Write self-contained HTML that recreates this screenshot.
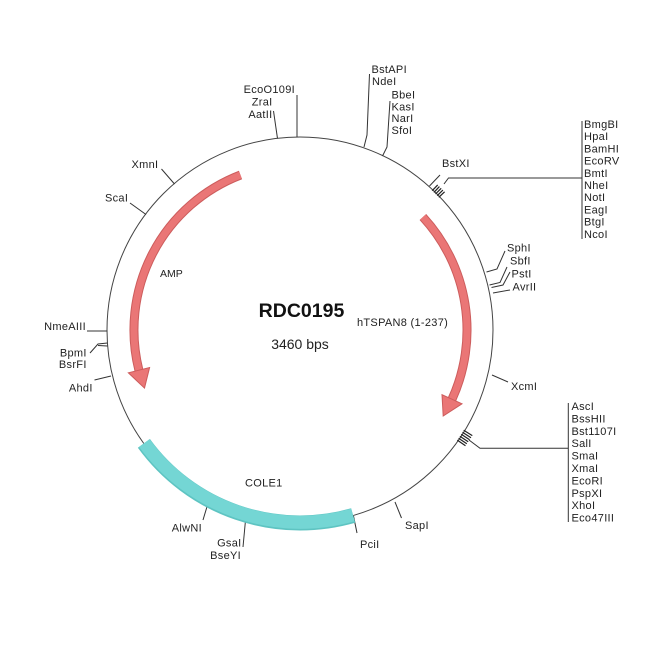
<!DOCTYPE html>
<html>
<head>
<meta charset="utf-8">
<style>
  html, body { margin:0; padding:0; background:#fff; }
  svg { display:block; }
  text { font-family: "Liberation Sans", Arial, sans-serif; fill:#222; }
  .l { font-size:11px; letter-spacing:0.3px; }
</style>
</head>
<body>
<svg width="650" height="650" viewBox="0 0 650 650" xmlns="http://www.w3.org/2000/svg">
  <rect width="650" height="650" fill="#fff"/>

  <!-- backbone -->
  <circle cx="300" cy="330" r="193" fill="none" stroke="#444" stroke-width="1"/>

  <!-- tick lines -->
  <g fill="none" stroke="#333" stroke-width="1">
    <path d="M297,95 L297,137"/>
    <path d="M273.5,111 L277.5,138.5"/>
    <path d="M369.5,74 L367,135 L364,147"/>
    <path d="M390,101 L387,147 L382.5,156"/>
    <path d="M429.5,186 L440,175"/>
    <path d="M444,184 L448.5,178 L582,178"/>
    <path d="M582,121 L582,239"/>
    <path d="M486.5,272 L497,269 L505,251"/>
    <path d="M489.5,285 L500,282.5 L507,267"/>
    <path d="M491.5,287.5 L503,285 L510,272"/>
    <path d="M493,293 L510,290"/>
    <path d="M492,375 L508,382"/>
    <path d="M469,440 L480,448.3 L568.3,448.3"/>
    <path d="M568.3,403 L568.3,522"/>
    <path d="M395,502 L401.5,518"/>
    <path d="M353.5,516 L357,533"/>
    <path d="M246,515 L243,547"/>
    <path d="M209,500 L203,520"/>
    <path d="M161.5,169 L174.5,184"/>
    <path d="M130,203 L146,214.5"/>
    <path d="M87,331 L107.5,331"/>
    <path d="M107.5,343 L98,344 L90,353"/>
    <path d="M107.5,346 L98,345.5"/>
    <path d="M111,376 L94.5,380"/>
  </g>

  <!-- clusters -->
  <g stroke="#222" stroke-width="1.2">
    <line x1="432.2" y1="190.7" x2="437.7" y2="184.9"/>
    <line x1="433.9" y1="192.4" x2="439.4" y2="186.6"/>
    <line x1="435.5" y1="194.0" x2="441.2" y2="188.3"/>
    <line x1="437.2" y1="195.7" x2="442.9" y2="190.1"/>
    <line x1="438.8" y1="197.3" x2="444.6" y2="191.8"/>

    <line x1="463.7" y1="430.3" x2="472.3" y2="435.6"/>
    <line x1="462.5" y1="432.3" x2="471.0" y2="437.7"/>
    <line x1="461.2" y1="434.3" x2="469.6" y2="439.8"/>
    <line x1="459.9" y1="436.3" x2="468.2" y2="441.8"/>
    <line x1="458.6" y1="438.2" x2="466.8" y2="443.8"/>
    <line x1="457.3" y1="440.1" x2="465.5" y2="445.8"/>
  </g>

  <!-- COLE1 band -->
  <path d="M353.2,515.5 A193,193 0 0 1 143.9,443.4" fill="none" stroke="#5ec4c2" stroke-width="15"/>
  <path d="M352.9,515.0 A193,193 0 0 1 144.3,443.0" fill="none" stroke="#74d6d4" stroke-width="13"/>

  <!-- AMP arrow -->
  <path d="M240.5,175 A166,166 0 0 0 138.9,370.2" fill="none" stroke="#cc5c5c" stroke-width="9"/>
  <path d="M240.5,175 A166,166 0 0 0 138.9,370.2" fill="none" stroke="#ea7676" stroke-width="7"/>
  <polygon points="128.3,372.8 149.6,367.5 144.5,388.1" fill="#ea7676" stroke="#cc5c5c" stroke-width="1"/>

  <!-- hTSPAN8 arrow -->
  <path d="M422.9,217 A167,167 0 0 1 452,399.3" fill="none" stroke="#cc5c5c" stroke-width="9"/>
  <path d="M422.9,217 A167,167 0 0 1 452,399.3" fill="none" stroke="#ea7676" stroke-width="7"/>
  <polygon points="462.0,403.8 442.0,394.7 443.2,416.0" fill="#ea7676" stroke="#cc5c5c" stroke-width="1"/>

  <!-- center -->
  <text x="301.5" y="317" text-anchor="middle" font-size="19.5" font-weight="bold" style="fill:#111">RDC0195</text>
  <text x="300" y="349" text-anchor="middle" font-size="14">3460 bps</text>
  <text class="l" x="357" y="326">hTSPAN8 (1-237)</text>
  <text x="160" y="277" font-size="10.5">AMP</text>
  <text class="l" x="245" y="486.5">COLE1</text>

  <!-- top labels -->
  <text class="l" x="295" y="93" text-anchor="end">EcoO109I</text>
  <text class="l" x="272.5" y="105.5" text-anchor="end">ZraI</text>
  <text class="l" x="272.5" y="118" text-anchor="end">AatII</text>
  <text class="l" x="371.5" y="73">BstAPI</text>
  <text class="l" x="372" y="85">NdeI</text>
  <text class="l" x="391.5" y="98.5">BbeI</text>
  <text class="l" x="391.5" y="110.3">KasI</text>
  <text class="l" x="391.5" y="122">NarI</text>
  <text class="l" x="391.5" y="133.8">SfoI</text>
  <text class="l" x="442" y="167">BstXI</text>

  <!-- right list 1 -->
  <text class="l" x="584" y="128">BmgBI</text>
  <text class="l" x="584" y="140.2">HpaI</text>
  <text class="l" x="584" y="152.4">BamHI</text>
  <text class="l" x="584" y="164.6">EcoRV</text>
  <text class="l" x="584" y="176.8">BmtI</text>
  <text class="l" x="584" y="189">NheI</text>
  <text class="l" x="584" y="201.2">NotI</text>
  <text class="l" x="584" y="213.4">EagI</text>
  <text class="l" x="584" y="225.6">BtgI</text>
  <text class="l" x="584" y="237.8">NcoI</text>

  <text class="l" x="507" y="251.5">SphI</text>
  <text class="l" x="510" y="264.5">SbfI</text>
  <text class="l" x="511.5" y="277.5">PstI</text>
  <text class="l" x="512.5" y="290.5">AvrII</text>
  <text class="l" x="511" y="390">XcmI</text>

  <!-- right list 2 -->
  <text class="l" x="571.5" y="410">AscI</text>
  <text class="l" x="571.5" y="422.4">BssHII</text>
  <text class="l" x="571.5" y="434.8">Bst1107I</text>
  <text class="l" x="571.5" y="447.2">SalI</text>
  <text class="l" x="571.5" y="459.6">SmaI</text>
  <text class="l" x="571.5" y="472">XmaI</text>
  <text class="l" x="571.5" y="484.4">EcoRI</text>
  <text class="l" x="571.5" y="496.8">PspXI</text>
  <text class="l" x="571.5" y="509.2">XhoI</text>
  <text class="l" x="571.5" y="521.6">Eco47III</text>

  <!-- bottom -->
  <text class="l" x="405" y="529">SapI</text>
  <text class="l" x="360" y="548">PciI</text>
  <text class="l" x="241.5" y="546.5" text-anchor="end">GsaI</text>
  <text class="l" x="241" y="559" text-anchor="end">BseYI</text>
  <text class="l" x="202" y="531.5" text-anchor="end">AlwNI</text>

  <!-- left -->
  <text class="l" x="131.5" y="168">XmnI</text>
  <text class="l" x="105" y="201.5">ScaI</text>
  <text class="l" x="86" y="330" text-anchor="end">NmeAIII</text>
  <text class="l" x="86.7" y="356.3" text-anchor="end">BpmI</text>
  <text class="l" x="86.7" y="368" text-anchor="end">BsrFI</text>
  <text class="l" x="92.7" y="391.5" text-anchor="end">AhdI</text>
</svg>
</body>
</html>
